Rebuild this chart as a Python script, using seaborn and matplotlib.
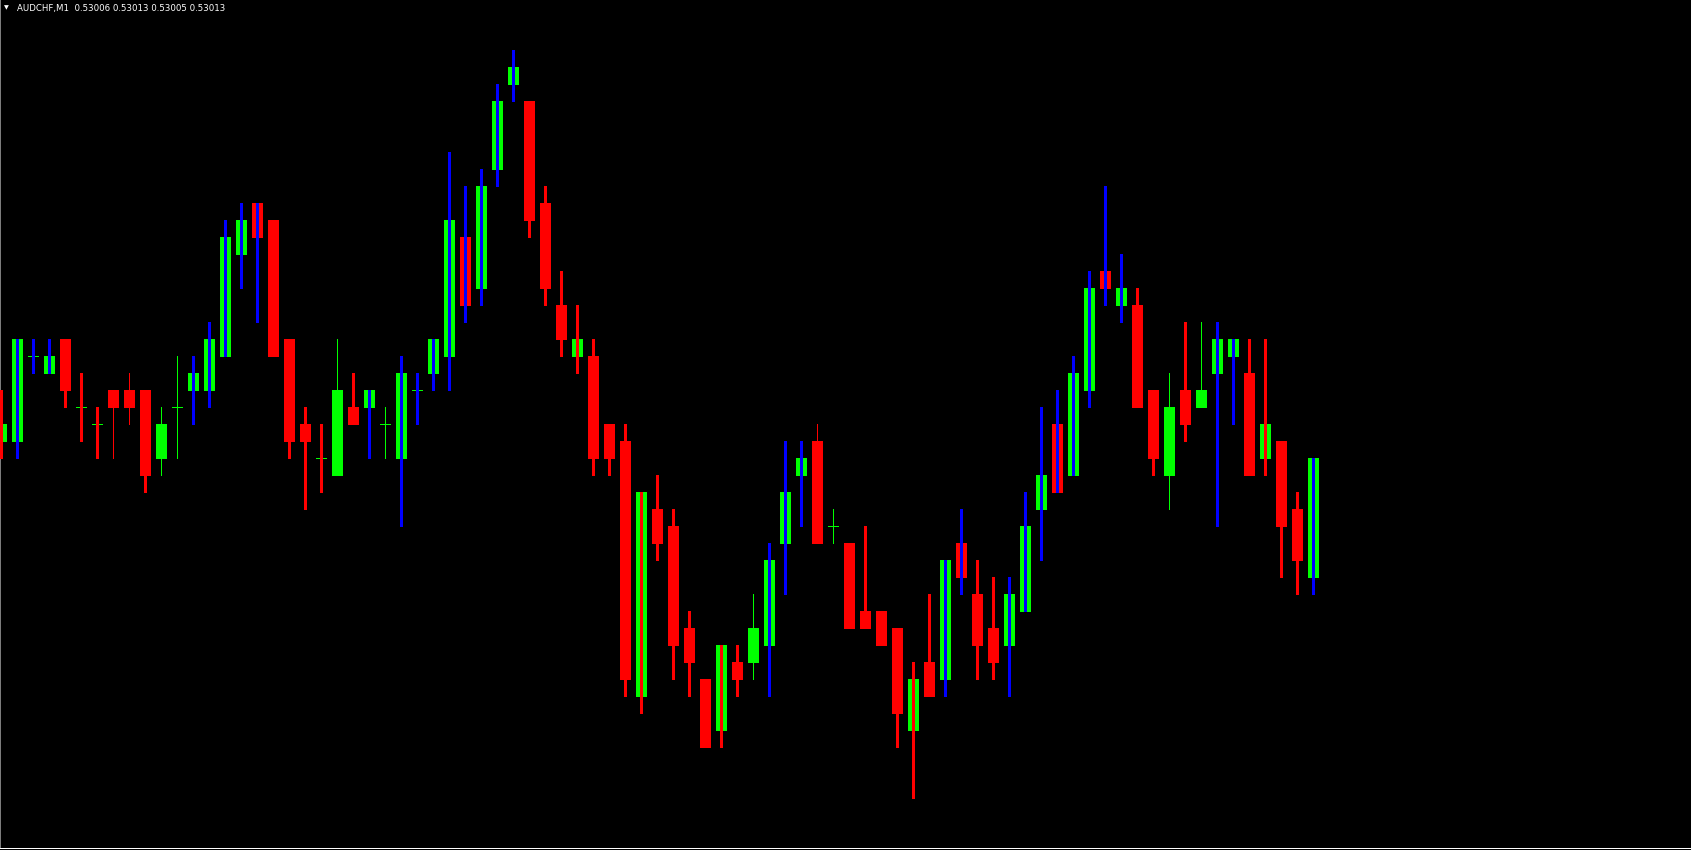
import numpy as np
import pandas as pd
import matplotlib
matplotlib.use("Agg")
import matplotlib.pyplot as plt
import seaborn as sns

# ==========================================
# AUDCHF M1 candles
# ==========================================
symbol = "AUDCHF,M1"

open_ = [0.53014, 0.53014, 0.53019, 0.53018, 0.53020, 0.53016, 0.53015, 0.53017, 0.53017, 0.53017,
         0.53013, 0.53016, 0.53017, 0.53017, 0.53019, 0.53025, 0.53028, 0.53027, 0.53020, 0.53015,
         0.53013, 0.53012, 0.53016, 0.53016, 0.53015, 0.53013, 0.53017, 0.53018, 0.53019, 0.53026,
         0.53023, 0.53030, 0.53035, 0.53034, 0.53028, 0.53022, 0.53019, 0.53019, 0.53015, 0.53014,
         0.52999, 0.53010, 0.53009, 0.53003, 0.53000, 0.52997, 0.53001, 0.53001, 0.53002, 0.53008,
         0.53012, 0.53014, 0.53009, 0.53008, 0.53004, 0.53004, 0.53003, 0.52997, 0.53001, 0.53000,
         0.53008, 0.53005, 0.53003, 0.53002, 0.53004, 0.53010, 0.53015, 0.53012, 0.53017, 0.53024,
         0.53022, 0.53022, 0.53017, 0.53012, 0.53017, 0.53016, 0.53018, 0.53019, 0.53018, 0.53013,
         0.53014, 0.53010, 0.53006]

high = [0.53017, 0.53020, 0.53020, 0.53020, 0.53020, 0.53018, 0.53016, 0.53017, 0.53018, 0.53017,
        0.53016, 0.53019, 0.53019, 0.53021, 0.53027, 0.53028, 0.53028, 0.53027, 0.53020, 0.53016,
        0.53015, 0.53020, 0.53018, 0.53017, 0.53016, 0.53019, 0.53018, 0.53020, 0.53031, 0.53029,
        0.53030, 0.53035, 0.53037, 0.53034, 0.53029, 0.53024, 0.53022, 0.53020, 0.53015, 0.53015,
        0.53011, 0.53012, 0.53010, 0.53004, 0.53000, 0.53002, 0.53002, 0.53005, 0.53008, 0.53014,
        0.53014, 0.53015, 0.53010, 0.53008, 0.53009, 0.53004, 0.53003, 0.53001, 0.53005, 0.53007,
        0.53010, 0.53007, 0.53006, 0.53006, 0.53011, 0.53016, 0.53017, 0.53019, 0.53024, 0.53029,
        0.53025, 0.53023, 0.53017, 0.53018, 0.53021, 0.53021, 0.53021, 0.53020, 0.53020, 0.53020,
        0.53014, 0.53011, 0.53013]

low = [0.53013, 0.53013, 0.53018, 0.53018, 0.53016, 0.53014, 0.53013, 0.53013, 0.53015, 0.53011,
       0.53012, 0.53013, 0.53015, 0.53016, 0.53019, 0.53023, 0.53021, 0.53019, 0.53013, 0.53010,
       0.53011, 0.53012, 0.53015, 0.53013, 0.53013, 0.53009, 0.53015, 0.53017, 0.53017, 0.53021,
       0.53022, 0.53029, 0.53034, 0.53026, 0.53022, 0.53019, 0.53018, 0.53012, 0.53012, 0.52999,
       0.52998, 0.53007, 0.53000, 0.52999, 0.52996, 0.52996, 0.52999, 0.53000, 0.52999, 0.53005,
       0.53009, 0.53008, 0.53008, 0.53003, 0.53003, 0.53002, 0.52996, 0.52993, 0.52999, 0.52999,
       0.53005, 0.53000, 0.53000, 0.52999, 0.53004, 0.53007, 0.53011, 0.53012, 0.53016, 0.53022,
       0.53021, 0.53016, 0.53012, 0.53010, 0.53014, 0.53016, 0.53009, 0.53015, 0.53012, 0.53012,
       0.53006, 0.53005, 0.53005]

close = [0.53015, 0.53020, 0.53019, 0.53019, 0.53017, 0.53016, 0.53015, 0.53016, 0.53016, 0.53012,
         0.53015, 0.53016, 0.53018, 0.53020, 0.53026, 0.53027, 0.53026, 0.53019, 0.53014, 0.53014,
         0.53013, 0.53017, 0.53015, 0.53017, 0.53015, 0.53018, 0.53017, 0.53020, 0.53027, 0.53022,
         0.53029, 0.53034, 0.53036, 0.53027, 0.53023, 0.53020, 0.53020, 0.53013, 0.53013, 0.53000,
         0.53011, 0.53008, 0.53002, 0.53001, 0.52996, 0.53002, 0.53000, 0.53003, 0.53007, 0.53011,
         0.53013, 0.53008, 0.53009, 0.53003, 0.53003, 0.53002, 0.52998, 0.53000, 0.52999, 0.53007,
         0.53006, 0.53002, 0.53001, 0.53005, 0.53009, 0.53012, 0.53011, 0.53018, 0.53023, 0.53023,
         0.53023, 0.53016, 0.53013, 0.53016, 0.53015, 0.53017, 0.53020, 0.53020, 0.53012, 0.53015,
         0.53009, 0.53007, 0.53013]

# indicator histogram drawn over each bar: b = blue (up), r = red (down), - = none
signal = list("rbbbrrr--r" "--bbbbbrrr" "r-rb-bbbbb" "bbbrrrrrrr" "rrrrrrr-bb"
              "b---r-rrrb" "brrbbbbbbb" "brr-r-bbrr" "rrb")

# ==========================================
# Styling
# ==========================================
W, H, DPI = 1691, 850, 100
PX = 1e-5 / 17          # one screen pixel in price units
BAR_STEP = 16           # pixels between candles
BULL, BEAR, BLUE = "#00FF00", "#FF0000", "#0000FF"

sns.set_theme(style="dark", rc={
    "axes.facecolor": "black",
    "figure.facecolor": "black",
    "savefig.facecolor": "black",
})
plt.rcParams["font.family"] = ["DejaVu Sans"]

df = pd.DataFrame({"open": open_, "high": high, "low": low, "close": close, "signal": signal})
df["x"] = np.arange(len(df))
df["up"] = df["close"] >= df["open"]
df["doji"] = np.isclose(df["close"], df["open"])

fig = plt.figure(figsize=(W / DPI, H / DPI), dpi=DPI)
ax_bottom = 2.5 / H
ax = fig.add_axes([0, ax_bottom, 1, 1 - ax_bottom])

# thin native wicks
ax.bar(df["x"], df["high"] - df["low"] + PX, bottom=df["low"] - PX, width=1 / BAR_STEP,
       color=np.where(df["up"], BULL, BEAR), linewidth=0, zorder=1)

# bodies
body = df[~df["doji"]]
lo = np.minimum(body["open"], body["close"])
ax.bar(body["x"], (body["close"] - body["open"]).abs() + PX, bottom=lo - PX, width=11 / BAR_STEP,
       color=np.where(body["up"], BULL, BEAR), linewidth=0, zorder=2)

# doji crosses
dj = df[df["doji"]]
ax.bar(dj["x"], PX, bottom=dj["open"] - PX, width=11 / BAR_STEP, color=BULL, linewidth=0, zorder=2)

# indicator histogram (high-low) on top
for code, col in (("b", BLUE), ("r", BEAR)):
    s = df[df["signal"] == code]
    ax.bar(s["x"], s["high"] - s["low"] + PX, bottom=s["low"] - PX, width=3 / BAR_STEP,
           color=col, linewidth=0, zorder=3)

# pixel-exact scales
ax.set_xlim(-1.5 / BAR_STEP, (W - 1.5) / BAR_STEP)
top_p = 0.53 + (679 / 17) * 1e-5
bot_p = 0.53 + ((679 - 847.5) / 17) * 1e-5
ax.set_ylim(bot_p, top_p)

ax.set_xticks(df["x"][::4])
ax.set_xticklabels([])
ax.set_yticks([])
ax.tick_params(axis="x", direction="out", length=1.6, width=0.72, color="white", pad=0)
for side in ("top", "right"):
    ax.spines[side].set_visible(False)
ax.spines["bottom"].set_color("white")
ax.spines["bottom"].set_linewidth(0.72)
ax.spines["left"].set_color("#808080")
ax.spines["left"].set_linewidth(1.4)
ax.grid(False)

# header
last = df.iloc[-1]
header = f"{symbol}  {last['open']:.5f} {last['high']:.5f} {last['low']:.5f} {last['close']:.5f}"
fig.text(4 / W, 1 - 8 / H, "\u25bc", color="white", fontsize=4.5, va="center", ha="left")
fig.text(17 / W, 1 - 8 / H, header, color="white", fontsize=6.2, va="center", ha="left")

fig.savefig("out.png", dpi=DPI)
plt.close(fig)
